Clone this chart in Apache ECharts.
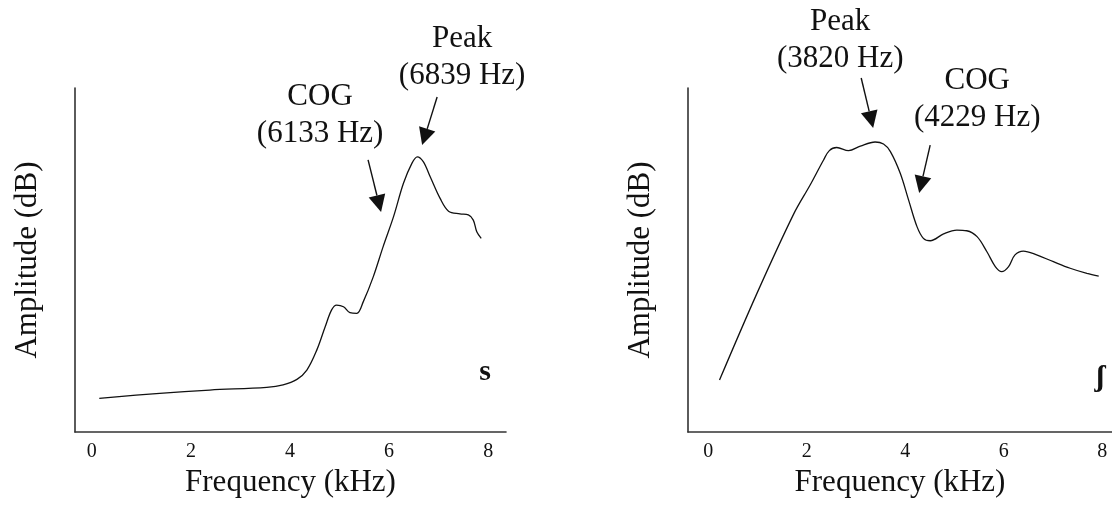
<!DOCTYPE html>
<html>
<head>
<meta charset="utf-8">
<script src="https://cdn.jsdelivr.net/npm/echarts@6/dist/echarts.min.js"></script>
<style>
  html, body { margin: 0; padding: 0; background: #fff; }
  #chart { width: 1112px; height: 506px; }
</style>
</head>
<body>
<div id="chart"></div>
<script>
// Spectrum of /s/ (frequency in kHz, relative amplitude in dB)
const sFreq = [0.15, 1.37, 2.38, 3.53, 3.86, 4.14, 4.34, 4.54, 4.71, 4.84, 4.94, 5.08, 5.21, 5.35, 5.48,
               5.68, 5.88, 6.09, 6.29, 6.46, 6.57, 6.69, 6.83, 7.03, 7.20, 7.43, 7.60, 7.70, 7.77, 7.86];
const sAmp  = [9.8, 11.25, 12.2, 13.0, 13.7, 15.3, 18.0, 23.8, 30.6, 35.5, 36.9, 36.4, 34.7, 34.5, 37.9,
               45.1, 53.9, 62.6, 72.3, 78.1, 80.0, 78.6, 74.2, 67.9, 64.2, 63.4, 63.1, 61.6, 58.2, 56.3];

// Spectrum of /ʃ/
const shFreq = [0.23, 0.99, 1.73, 2.07, 2.34, 2.46, 2.61, 2.85, 3.09, 3.39, 3.56, 3.70, 3.90, 4.07, 4.24,
                4.37, 4.51, 4.78, 5.05, 5.25, 5.46, 5.66, 5.83, 5.96, 6.10, 6.23, 6.40, 6.67, 7.01, 7.35, 7.69, 7.93];
const shAmp  = [15.1, 40.3, 63.2, 71.8, 79.0, 81.8, 82.7, 81.8, 83.1, 84.3, 83.7, 81.5, 75.2, 67.4, 59.7,
                56.3, 55.6, 57.6, 58.7, 58.5, 56.8, 52.4, 48.1, 46.6, 48.1, 51.5, 52.6, 51.5, 49.5, 47.6, 46.1, 45.3];

// Frequency tick labels (kHz)
const freqTicks = [0, 2, 4, 6, 8];

// Arrow annotations: arrow tail and tip in (kHz, dB)
const sNotes = [
  { text: 'COG\n(6133 Hz)',  tail: [5.576, 79.1], tip: [5.838, 63.95] },
  { text: 'Peak\n(6839 Hz)', tail: [6.970, 97.4], tip: [6.667, 83.4] }
];
const shNotes = [
  { text: 'Peak\n(3820 Hz)', tail: [3.107, 102.9], tip: [3.350, 88.4] },
  { text: 'COG\n(4229 Hz)',  tail: [4.508, 83.4], tip: [4.284, 69.5] }
];
// Label centre offset (px) from each arrow tail
const sNoteOffsets = [[-48, -45], [25, -40]];
const shNoteOffsets = [[-21, -38], [47, -46]];

const SERIF = "'Liberation Serif', 'Times New Roman', serif";
const INK = '#111';
const AXIS = '#333';
const TEXT_SIZE = 31;

function toPairs(xs, ys) { return xs.map((x, i) => [x, ys[i]]); }

function xAxisOf(gridIndex, min, max) {
  return {
    type: 'value', gridIndex, min, max,
    name: 'Frequency (kHz)', nameLocation: 'middle', nameGap: 28,
    nameTextStyle: { fontFamily: SERIF, fontSize: TEXT_SIZE, color: INK },
    axisLine: { show: true, onZero: false, lineStyle: { color: AXIS, width: 1.6 } },
    axisTick: { show: false },
    splitLine: { show: false },
    axisLabel: { customValues: freqTicks, margin: 10, fontFamily: SERIF, fontSize: 20, color: INK }
  };
}
function yAxisOf(gridIndex) {
  return {
    type: 'value', gridIndex, min: 0, max: 100,
    name: 'Amplitude (dB)', nameLocation: 'middle', nameGap: 32,
    nameTextStyle: { fontFamily: SERIF, fontSize: TEXT_SIZE, color: INK },
    axisLine: { show: true, onZero: false, lineStyle: { color: AXIS, width: 1.6 } },
    axisTick: { show: false },
    splitLine: { show: false },
    axisLabel: { show: false }
  };
}
function curve(xAxisIndex, yAxisIndex, data) {
  return {
    type: 'line', xAxisIndex, yAxisIndex, data,
    smooth: 0.35, showSymbol: false, silent: true,
    lineStyle: { color: INK, width: 1.3 }
  };
}

const chart = echarts.init(document.getElementById('chart'), null, { renderer: 'canvas' });
chart.setOption({
  backgroundColor: '#fff',
  animation: false,
  grid: [
    { left: 75, top: 88, width: 431, height: 344 },
    { left: 688, top: 88, width: 424, height: 344 }
  ],
  xAxis: [xAxisOf(0, -0.34, 8.36), xAxisOf(1, -0.41, 8.2)],
  yAxis: [yAxisOf(0), yAxisOf(1)],
  series: [
    curve(0, 0, toPairs(sFreq, sAmp)),
    curve(1, 1, toPairs(shFreq, shAmp))
  ]
});

// Arrows and labels, placed through each grid's scales
function noteGraphics(gridIndex, notes, offsets) {
  const out = [];
  notes.forEach((n, i) => {
    const a = chart.convertToPixel({ gridIndex }, n.tail);
    const b = chart.convertToPixel({ gridIndex }, n.tip);
    const dx = b[0] - a[0], dy = b[1] - a[1];
    const len = Math.hypot(dx, dy), ux = dx / len, uy = dy / len;
    const head = 17, half = 8.5;
    const base = [b[0] - ux * head, b[1] - uy * head];
    out.push({
      type: 'line', silent: true,
      shape: { x1: a[0], y1: a[1], x2: base[0], y2: base[1] },
      style: { stroke: INK, lineWidth: 1.4 }
    });
    out.push({
      type: 'polygon', silent: true,
      shape: { points: [b, [base[0] - uy * half, base[1] + ux * half], [base[0] + uy * half, base[1] - ux * half]] },
      style: { fill: INK }
    });
    out.push({
      type: 'text', silent: true,
      x: a[0] + offsets[i][0], y: a[1] + offsets[i][1],
      style: {
        text: n.text, fontFamily: SERIF, fontSize: TEXT_SIZE, lineHeight: 37,
        fill: INK, align: 'center', verticalAlign: 'middle'
      }
    });
  });
  return out;
}
function tag(gridIndex, text, at) {
  const p = chart.convertToPixel({ gridIndex }, at);
  return {
    type: 'text', silent: true, x: p[0], y: p[1],
    style: { text, fontFamily: SERIF, fontSize: 30, fontWeight: 'bold', fill: INK, align: 'center', verticalAlign: 'middle' }
  };
}

chart.setOption({
  graphic: [
    ...noteGraphics(0, sNotes, sNoteOffsets),
    ...noteGraphics(1, shNotes, shNoteOffsets),
    tag(0, 's', [7.94, 17.5]),
    tag(1, 'ʃ', [7.96, 15.5])
  ]
});
</script>
</body>
</html>
